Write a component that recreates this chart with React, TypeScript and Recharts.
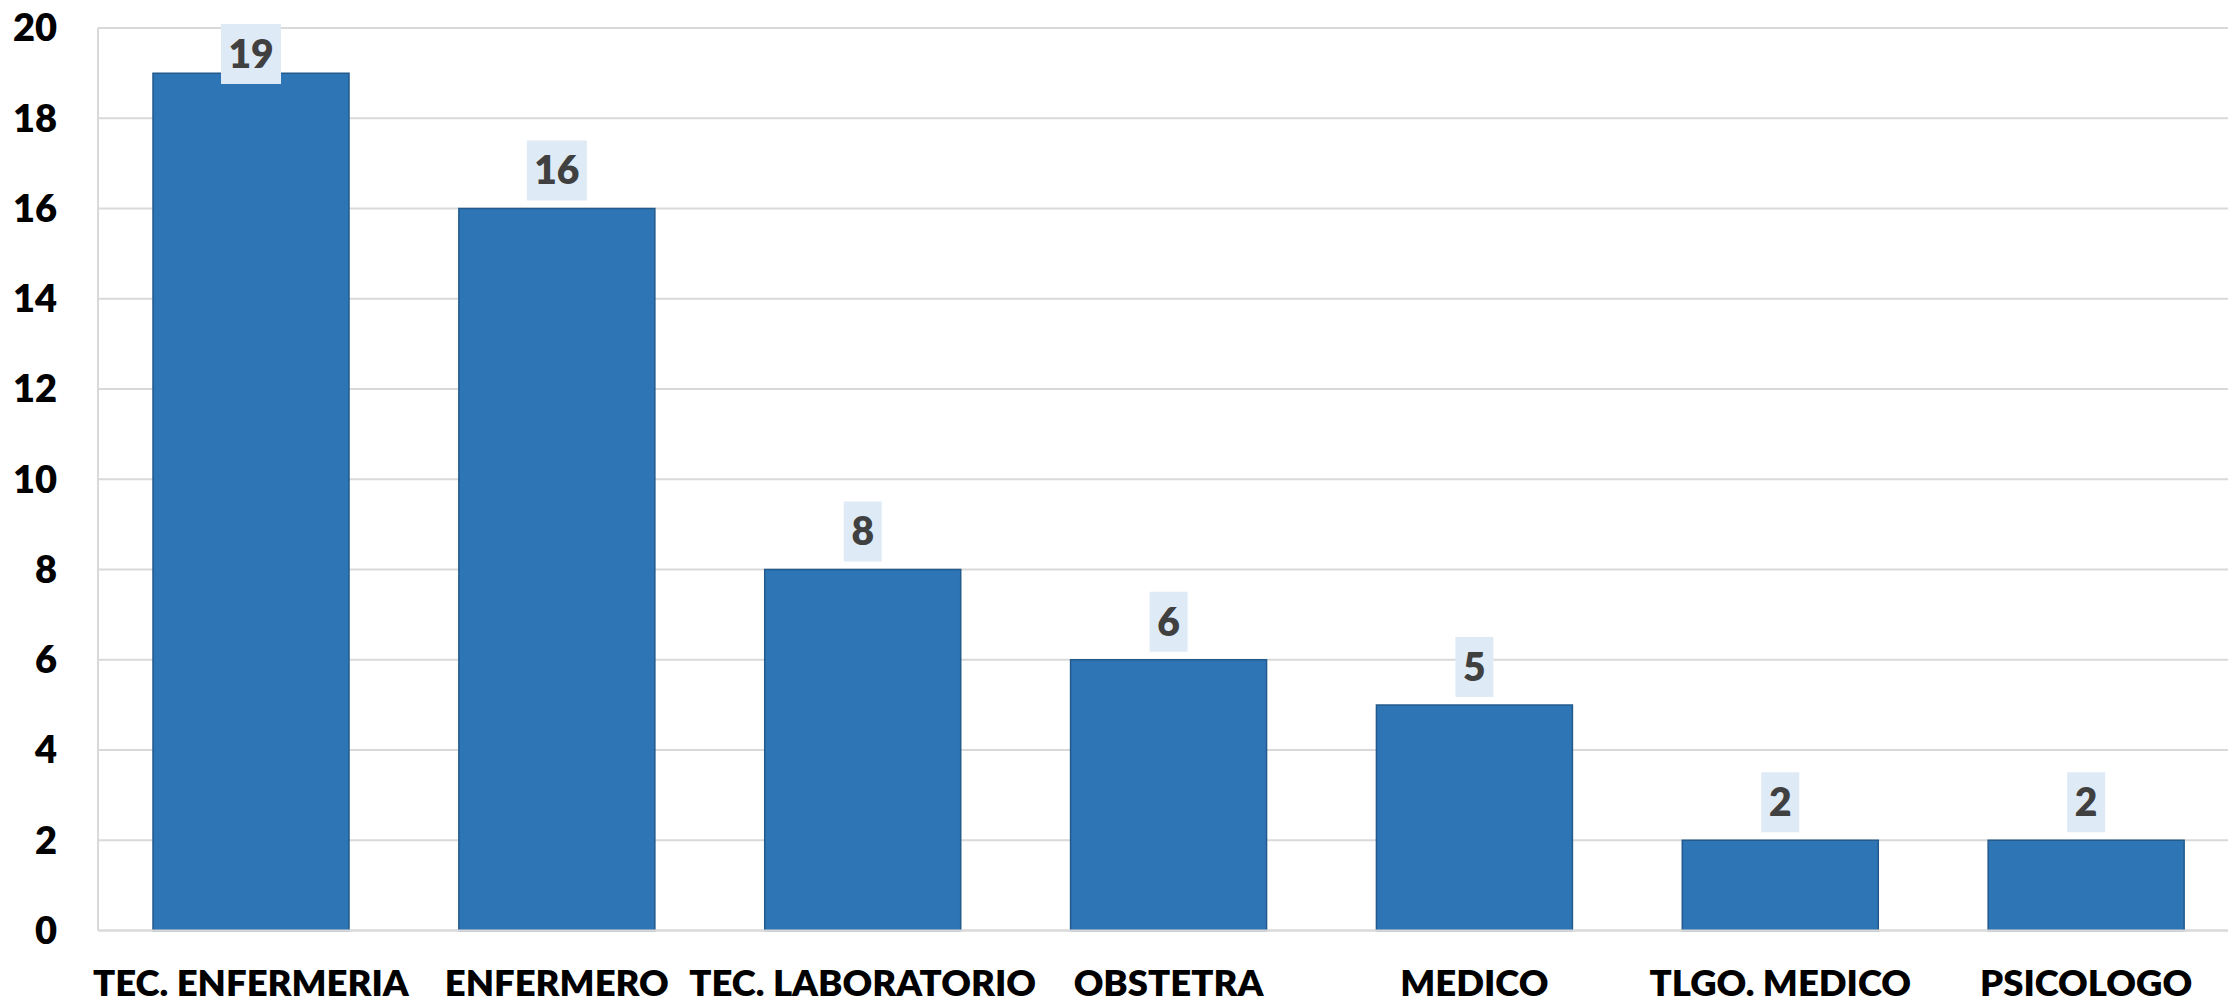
import React from "react";
import { BarChart, Bar, XAxis, YAxis, CartesianGrid, LabelList } from "recharts";

const categories = [
  "TEC. ENFERMERIA",
  "ENFERMERO",
  "TEC. LABORATORIO",
  "OBSTETRA",
  "MEDICO",
  "TLGO. MEDICO",
  "PSICOLOGO",
];
const counts = [19, 16, 8, 6, 5, 2, 2];
const yTicks = [0, 2, 4, 6, 8, 10, 12, 14, 16, 18, 20];

const data = categories.map((name, i) => ({ name, value: counts[i] }));

const FONT = "Lato, 'Open Sans', sans-serif";

const ValueLabel = (props: any) => {
  const { x, y, width, value } = props;
  const text = String(value);
  const boxW = text.length > 1 ? 60 : 38;
  const boxH = 60;
  const cx = x + width / 2;
  let top = y - 8 - boxH;
  if (top < 24) top = 24;
  return (
    <g>
      <rect x={cx - boxW / 2} y={top} width={boxW} height={boxH} fill="#DEEAF6" />
      <text
        x={cx}
        y={top + boxH / 2}
        dy="0.355em"
        textAnchor="middle"
        fill="#404040"
        fontFamily={FONT}
        fontWeight={800}
        fontSize={39}
      >
        {text}
      </text>
    </g>
  );
};

export default function App() {
  return (
    <div
      style={{
        position: "absolute",
        left: 0,
        top: 0,
        width: 2228,
        height: 1004,
        overflow: "hidden",
        background: "#ffffff",
      }}
    >
      <BarChart
        width={2239}
        height={1004}
        data={data}
        margin={{ top: 28, right: 0, bottom: 0, left: 0 }}
      >
        <CartesianGrid vertical={false} stroke="#D9D9D9" strokeWidth={2} />
        <XAxis
          dataKey="name"
          interval={0}
          height={73.5}
          tickSize={0}
          tickMargin={40}
          axisLine={{ stroke: "#D9D9D9", strokeWidth: 2 }}
          tick={{ fill: "#000000", fontFamily: FONT, fontWeight: 800, fontSize: 36.5 }}
        />
        <YAxis
          domain={[0, 20]}
          ticks={yTicks}
          interval={0}
          width={98}
          tickSize={0}
          tickMargin={41}
          axisLine={{ stroke: "#D9D9D9", strokeWidth: 2 }}
          tick={{ fill: "#000000", fontFamily: FONT, fontWeight: 800, fontSize: 38 }}
        />
        <Bar
          dataKey="value"
          fill="#2E75B6"
          stroke="#235A8C"
          strokeWidth={1.5}
          barSize={196}
          isAnimationActive={false}
        >
          <LabelList dataKey="value" content={<ValueLabel />} />
        </Bar>
      </BarChart>
    </div>
  );
}
